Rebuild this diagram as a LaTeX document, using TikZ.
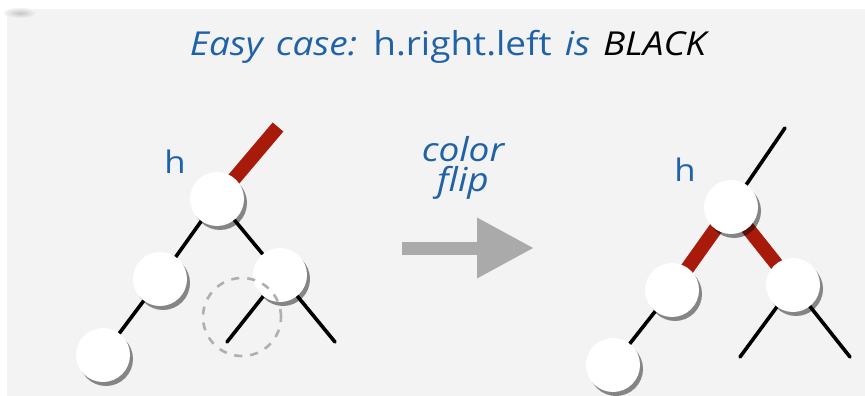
\documentclass[tikz,border=0pt]{standalone}
\usepackage{fontspec}
\setmainfont{Open Sans}[FakeStretch=1.12]
\usepackage{xcolor}
\usepackage{tikz}
\usetikzlibrary{arrows.meta,backgrounds,shadows}
\definecolor{bggray}{RGB}{243,243,243}
\definecolor{capblue}{RGB}{31,98,168}
\definecolor{linkred}{RGB}{168,26,10}
\definecolor{arrgray}{RGB}{170,170,170}
\definecolor{dashgray}{RGB}{175,175,175}
\tikzset{
  treenode/.style={circle,fill=white,minimum size=54pt,inner sep=0pt,
    drop shadow={shadow xshift=3pt,shadow yshift=-4pt,opacity=0.45,fill=black}},
  blacklink/.style={line width=3.6pt,black,line cap=round},
  redlink/.style={line width=14pt,linkred},
  hlabel/.style={font=\fontsize{31}{34}\selectfont,text=capblue,inner sep=0pt},
  flip/.style={line width=13pt,arrgray,-{Triangle[length=57pt,width=57pt]}}
}

\begin{document}
\begin{tikzpicture}[x=1pt,y=-1pt]
  \useasboundingbox (0,0) rectangle (865,396);
  % background
  \begin{scope}[on background layer]
    \fill[white] (0,0) rectangle (865,396);
    \fill[bggray] (7,9) rectangle (865,396);
    \shade[inner color=gray!45,outer color=bggray] (20,13) ellipse (16 and 5);
  \end{scope}

  % title
  \node[font=\fontsize{33}{36}\selectfont,text=capblue,anchor=base,inner sep=0pt] (title) at (448,56)
    {\spaceskip=13pt\itshape Easy case: \upshape h.right.left \itshape is \color{black}BLACK};

  % before: left tree
  \node[treenode] (lh) at (217,199) {};
  \node[treenode] (ll) at (160,279) {};
  \node[treenode] (lr) at (280,275) {};
  \node[treenode] (lleaf) at (103,355) {};
  \coordinate (lup) at (278,127);
  \coordinate (lrl) at (227,342);
  \coordinate (lrr) at (335,342);
  \node[hlabel] (lhname) at (175,162) {h};
  \node[circle,draw=dashgray,line width=2.6pt,dash pattern=on 8pt off 8pt,
    minimum size=78pt,inner sep=0pt] (hole) at (242,317) {};

  % color flip arrow
  \node[font=\fontsize{33}{30}\selectfont\itshape,text=capblue,align=center] (fliptext) at (463,168) {color\\flip};
  \coordinate (arrS) at (402,248);
  \coordinate (arrE) at (534,248);
  \draw[flip] (arrS) -- (arrE);

  % after: right tree
  \node[treenode] (rh) at (731,207) {};
  \node[treenode] (rl) at (672,290) {};
  \node[treenode] (rr) at (793,285) {};
  \node[treenode] (rleaf) at (613,365) {};
  \coordinate (rup) at (785,128);
  \coordinate (rrl) at (740,357);
  \coordinate (rrr) at (850,357);
  \node[hlabel] (rhname) at (685,170) {h};

  % links
  \begin{scope}[on background layer]
    \draw[redlink] (lh.center) -- (lup);
    \draw[blacklink] (lh) -- (ll);
    \draw[blacklink] (lh) -- (lr);
    \draw[blacklink] (ll) -- (lleaf);
    \draw[blacklink] (lr.center) -- (lrl);
    \draw[blacklink] (lr.center) -- (lrr);
    \draw[blacklink] (rh.center) -- (rup);
    \draw[redlink] (rh.center) -- (rl.center);
    \draw[redlink] (rh.center) -- (rr.center);
    \draw[blacklink] (rl) -- (rleaf);
    \draw[blacklink] (rr.center) -- (rrl);
    \draw[blacklink] (rr.center) -- (rrr);
  \end{scope}
\end{tikzpicture}
\end{document}
